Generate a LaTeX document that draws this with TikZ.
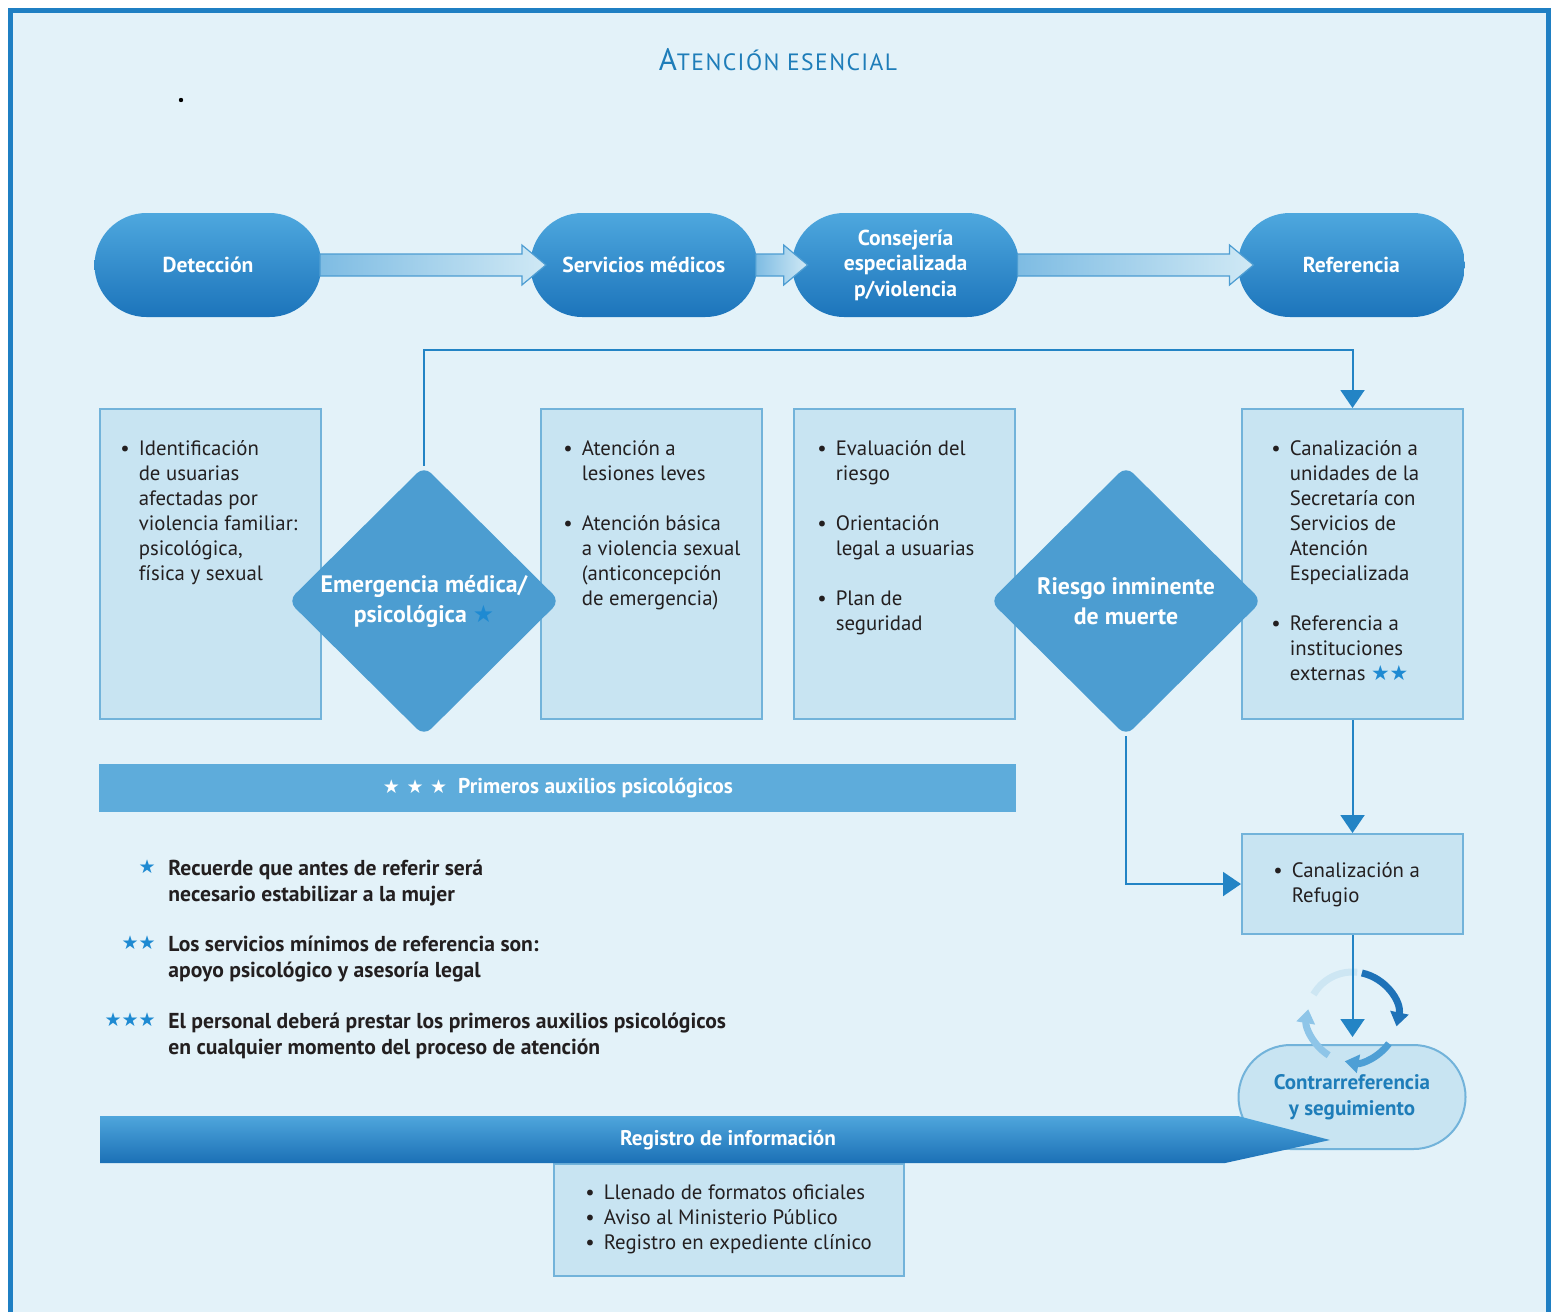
\documentclass[tikz,border=0pt]{standalone}
\usepackage{fontspec}
\setmainfont{PT Sans}
\newfontfamily\symfont{DejaVu Sans}
\usepackage{xcolor}
\usetikzlibrary{arrows.meta,positioning,shapes.geometric}

\definecolor{pagebg}{HTML}{E3F2F9}
\definecolor{frameblue}{HTML}{1F7FC3}
\definecolor{titleblue}{HTML}{1E7DB9}
\definecolor{pilltop}{HTML}{4EA8DE}
\definecolor{pillbot}{HTML}{1C74BB}
\definecolor{arrleft}{HTML}{7EBCE3}
\definecolor{arrright}{HTML}{D0E9F5}
\definecolor{arrline}{HTML}{4D9DD2}
\definecolor{boxfill}{HTML}{C8E4F2}
\definecolor{boxline}{HTML}{72B3DA}
\definecolor{diamfill}{HTML}{4C9DD1}
\definecolor{linecol}{HTML}{2384C5}
\definecolor{bannerfill}{HTML}{5EACDB}
\definecolor{textdark}{HTML}{231F20}
\definecolor{starblue}{HTML}{1E8AD2}
\definecolor{ringdark}{HTML}{1E72B8}
\definecolor{ringmid}{HTML}{4E9FD5}
\definecolor{ringlight}{HTML}{8EC5E8}
\definecolor{ringpale}{HTML}{CDE6F3}
\definecolor{regtop}{HTML}{4FA6DC}
\definecolor{regbot}{HTML}{1B70B6}

\newcommand{\bitem}[1]{\textbullet\hspace{4.5pt}\begin{tabular}[t]{@{}l@{}}#1\end{tabular}}
\newcommand{\stars}[1]{{\symfont\color{starblue}#1}}

\begin{document}
\begin{tikzpicture}[
  x=0.5pt, y=-0.5pt,
  pillshape/.style={rounded corners=26pt, minimum width=113.5pt, minimum height=52pt, inner sep=0pt, align=center},
  pill/.style={pillshape, top color=pilltop, bottom color=pillbot, text=white, font=\bfseries\fontsize{10.8}{12.75}\selectfont},
  contrapill/.style={pillshape, draw=boxline, line width=1pt, fill=boxfill, text=titleblue, font=\bfseries\fontsize{10.5}{12.75}\selectfont},
  blockarr/.style={draw=arrline, line width=0.6pt, left color=arrleft, right color=arrright},
  cbox/.style={draw=boxline, fill=boxfill, line width=1pt, anchor=north west, inner sep=0pt, minimum width=110.5pt},
  ctext/.style={inner sep=0pt, align=left, text=textdark, font=\fontsize{10.4}{12.5}\selectfont},
  decision/.style={diamond, aspect=1, inner sep=0pt, minimum width=136pt, minimum height=135pt, fill=diamfill, rounded corners=5pt, text=white, align=center, font=\bfseries\fontsize{11.9}{15}\selectfont},
  conn/.style={draw=linecol, line width=1pt, -{Triangle[width=12pt,length=9pt]}},
  banner/.style={anchor=north west, fill=bannerfill, inner sep=0pt, minimum width=458.5pt, minimum height=24pt, text=white, font=\bfseries\fontsize{10.7}{12}\selectfont},
  note/.style={anchor=north west, inner sep=0pt, align=left, text=textdark, font=\bfseries\fontsize{10.8}{12.75}\selectfont},
  notestar/.style={anchor=north east, inner sep=0pt, text=starblue, font=\symfont\fontsize{9.5}{12}\selectfont},
  ring/.style={line width=3.5pt, -{Triangle[width=9pt,length=7pt]}}
]
  \useasboundingbox (0,0) rectangle (1556,1312);
  % page and frame
  \fill[white] (0,0) rectangle (1556,1312);
  \fill[pagebg] (10,10) rectangle (1548,1312);
  \draw[frameblue, line width=2.5pt] (10,1312) -- (10,10) -- (1548,10) -- (1548,1312);
  \fill[black] (181,100) circle (1.1pt);

  \node[text=titleblue] (title) at (778,60)
    {\addfontfeatures{LetterSpace=6}\fontsize{15.5}{15}\selectfont A\fontsize{11.8}{15}\selectfont TENCIÓN ESENCIAL};

  % main flow
  \node[pill] (det) at (208,265) {Detección};
  \node[pill, right=104pt of det] (ser) {Servicios médicos};
  \node[pill, right=17pt of ser] (cons) {Consejería\\especializada\\p/violencia};
  \node[pill, right=109pt of cons] (ref) {Referencia};

  \foreach \a/\b in {det/ser, ser/cons, cons/ref}
    \draw[blockarr] ([xshift=-1pt,yshift=5.5pt]\a.east) -- ([xshift=-4pt,yshift=5.5pt]\b.west)
      -- ([xshift=-4pt,yshift=10pt]\b.west) -- ([xshift=8pt]\b.west)
      -- ([xshift=-4pt,yshift=-10pt]\b.west) -- ([xshift=-4pt,yshift=-5.5pt]\b.west)
      -- ([xshift=-1pt,yshift=-5.5pt]\a.east) -- cycle;

  % content boxes
  \node[cbox, minimum height=155pt] (ident) at (99,408) {};
  \node[cbox, minimum height=155pt] (lesion) at (540,408) {};
  \node[cbox, minimum height=155pt] (eval) at (793,408) {};
  \node[cbox, minimum height=155pt] (canal) at (1241,408) {};
  \node[cbox, minimum height=50pt] (refug) at (1241,833) {};

  \node[ctext, below right=14.75pt and 10.5pt of ident.north west] (identtxt)
    {\bitem{Identificación\\de usuarias\\afectadas por\\violencia familiar:\\psicológica,\\física y sexual}};
  \node[ctext, below right=14.75pt and 11.5pt of lesion.north west] (lesiontxt)
    {\bitem{Atención a\\lesiones leves}\\[11.5pt]
     \bitem{Atención básica\\a violencia sexual\\(anticoncepción\\de emergencia)}};
  \node[ctext, below right=14.75pt and 12pt of eval.north west] (evaltxt)
    {\bitem{Evaluación del\\riesgo}\\[11.5pt]
     \bitem{Orientación\\legal a usuarias}\\[11.5pt]
     \bitem{Plan de\\seguridad}};
  \node[ctext, below right=14.75pt and 15pt of canal.north west] (canaltxt)
    {\bitem{Canalización a\\unidades de la\\Secretaría con\\Servicios de\\Atención\\Especializada}\\[11.5pt]
     \bitem{Referencia a\\instituciones\\externas \stars{★★}}};
  \node[ctext, below right=13.25pt and 16pt of refug.north west] (refugtxt)
    {\bitem{Canalización a\\Refugio}};

  % decisions
  \node[decision] (em) at (424,601) {Emergencia médica/\\psicológica \stars{★}};
  \node[decision] (risk) at (1126,601) {Riesgo inminente\\de muerte};

  % connectors
  \draw[conn] (em.north) -- ++(0,-116) -| (canal.north);
  \draw[conn] (canal.south) -- (refug.north);
  \draw[conn] (risk.south) |- (refug.west);

  % first aid banner and notes
  \node[banner] (primeros) at (99,764)
    {{\symfont\fontsize{9.5}{12}\selectfont ★ ★ ★}\ \ Primeros auxilios psicológicos};

  \node[note] (n1) at (168,860) {Recuerde que antes de referir será\\necesario estabilizar a la mujer};
  \node[notestar, left=6pt of {[yshift=-3.5pt]n1.north west}] (s1) {★};
  \node[note] (n2) at (168,936) {Los servicios mínimos de referencia son:\\apoyo psicológico y asesoría legal};
  \node[notestar, left=6pt of {[yshift=-3.5pt]n2.north west}] (s2) {★★};
  \node[note] (n3) at (168,1013) {El personal deberá prestar los primeros auxilios psicológicos\\en cualquier momento del proceso de atención};
  \node[notestar, left=6pt of {[yshift=-3.5pt]n3.north west}] (s3) {★★★};

  % follow-up cycle
  \node[contrapill] (contra) at (1352,1097) {Contrarreferencia\\y seguimiento};
  \coordinate (cyc) at ([yshift=-41pt]refug.south);
  \draw[ringpale, line width=3.5pt] ([shift={(150:22.5pt)}]cyc) arc[start angle=150, end angle=84, radius=22.5pt];
  \draw[ring, ringdark] ([shift={(78:22.5pt)}]cyc) arc[start angle=78, end angle=-12, radius=22.5pt];
  \draw[ring, ringmid] ([shift={(-36:22.5pt)}]cyc) arc[start angle=-36, end angle=-100, radius=22.5pt];
  \draw[ring, ringlight] ([shift={(-122:22.5pt)}]cyc) arc[start angle=-122, end angle=-190, radius=22.5pt];
  \draw[conn] (refug.south) -- ([yshift=-10pt]cyc);

  % record keeping
  \node[cbox, minimum width=175pt, minimum height=56pt] (regbox) at (553,1163) {};
  \node[ctext, below right=9.25pt and 16pt of regbox.north west] (regtxt)
    {\bitem{Llenado de formatos oficiales}\\
     \bitem{Aviso al Ministerio Público}\\
     \bitem{Registro en expediente clínico}};
  \shade[top color=regtop, bottom color=regbot]
    (100,1116) -- (1238,1116) -- (1330,1140) -- (1225,1163) -- (100,1163) -- cycle;
  \node[text=white, font=\bfseries\fontsize{10.6}{12}\selectfont] (reg) at (728,1140) {Registro de información};
\end{tikzpicture}
\end{document}
